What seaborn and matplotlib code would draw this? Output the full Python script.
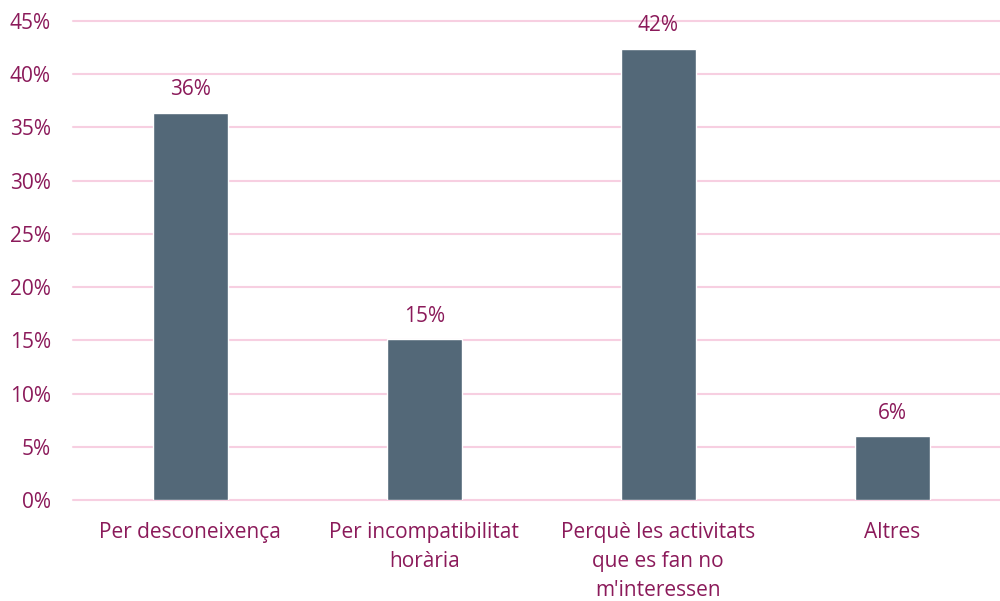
import matplotlib
matplotlib.use("Agg")
import matplotlib.pyplot as plt
import seaborn as sns
import pandas as pd

categories = ["Per desconeixença", "Per incompatibilitat\nhorària", "Perquè les activitats\nque es fan no\nm'interessen", "Altres"]
values = [36.4, 15.1, 42.4, 6.0]
labels = ["36%", "15%", "42%", "6%"]
yticks = [0, 5, 10, 15, 20, 25, 30, 35, 40, 45]

BAR = "#536878"
TXT = "#8B1A5A"
GRID = "#F7CFE1"

sns.set_theme(style="white")
plt.rcParams["font.family"] = ["Open Sans", "DejaVu Sans"]

df = pd.DataFrame({"cat": categories, "val": values})
fig = plt.figure(figsize=(10, 6.01), dpi=100)
ax = fig.add_axes([0.073, 0.168, 0.927, 0.797])
for t in yticks:
    ax.axhline(t, color=GRID, linewidth=1.5, zorder=0, clip_on=False)
sns.barplot(data=df, x="cat", y="val", color=BAR, width=0.32, saturation=1, ax=ax, zorder=2)
ax.set_ylim(0, 45)
ax.set_xlim(-0.5, 3.46)
ax.set_yticks(yticks)
ax.set_yticklabels([f"{t}%" for t in yticks])
ax.grid(False)
for s in ax.spines.values():
    s.set_visible(False)
ax.tick_params(axis="y", length=0, pad=16, labelsize=15, labelcolor=TXT)
ax.tick_params(axis="x", length=0, pad=16, labelsize=15, labelcolor=TXT)
for t in ax.get_xticklabels():
    t.set_linespacing(1.5)
ax.set_xlabel("")
ax.set_ylabel("")
for i, (v, l) in enumerate(zip(values, labels)):
    ax.annotate(l, (i, v), xytext=(0, 9), textcoords="offset points",
                ha="center", va="bottom", fontsize=15, color=TXT)
fig.savefig("out.png", dpi=100)
